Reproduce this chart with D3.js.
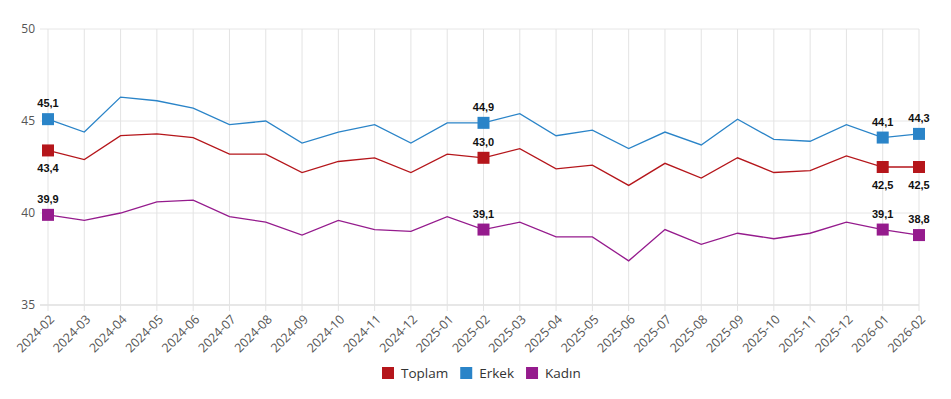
<!DOCTYPE html>
<html lang="tr">
<head>
  <meta charset="utf-8">
  <title>Toplam / Erkek / Kadın</title>
  <style>
    body { margin: 0; background: #fff; }
    svg text { font-family: "Open Sans", "DejaVu Sans", sans-serif; }
  </style>
</head>
<body>
  <script src="https://cdn.jsdelivr.net/npm/d3@7/dist/d3.min.js"></script>
  <script>
    var width = 951;
    var height = 399;

    // data
    var months = ["2024-02", "2024-03", "2024-04", "2024-05", "2024-06", "2024-07", "2024-08",
                  "2024-09", "2024-10", "2024-11", "2024-12", "2025-01", "2025-02", "2025-03",
                  "2025-04", "2025-05", "2025-06", "2025-07", "2025-08", "2025-09", "2025-10",
                  "2025-11", "2025-12", "2026-01", "2026-02"];
    var toplam = [43.4, 42.9, 44.2, 44.3, 44.1, 43.2, 43.2, 42.2, 42.8, 43.0, 42.2, 43.2, 43.0,
                  43.5, 42.4, 42.6, 41.5, 42.7, 41.9, 43.0, 42.2, 42.3, 43.1, 42.5, 42.5];
    var erkek  = [45.1, 44.4, 46.3, 46.1, 45.7, 44.8, 45.0, 43.8, 44.4, 44.8, 43.8, 44.9, 44.9,
                  45.4, 44.2, 44.5, 43.5, 44.4, 43.7, 45.1, 44.0, 43.9, 44.8, 44.1, 44.3];
    var kadin  = [39.9, 39.6, 40.0, 40.6, 40.7, 39.8, 39.5, 38.8, 39.6, 39.1, 39.0, 39.8, 39.1,
                  39.5, 38.7, 38.7, 37.4, 39.1, 38.3, 38.9, 38.6, 38.9, 39.5, 39.1, 38.8];
    var yTicks = [35, 40, 45, 50];
    // points that get a square marker and a value label
    var marked = [0, 12, 23, 24];

    var series = [
      { name: "Toplam", color: "#b5161b", values: toplam, below: [true, false, true, true] },
      { name: "Erkek",  color: "#2a84c8", values: erkek,  below: [false, false, false, false] },
      { name: "Kadın",  color: "#951b8d", values: kadin,  below: [false, false, false, false] }
    ];

    var margin = { top: 29, right: 32, bottom: 94, left: 40 };

    var x = d3.scalePoint()
              .domain(months)
              .range([margin.left + 8, width - margin.right])
              .padding(0);

    var y = d3.scaleLinear()
              .domain([35, 50])
              .range([height - margin.bottom, margin.top]);

    var svg = d3.select("body").append("svg")
                .attr("width", width)
                .attr("height", height);

    // grid
    svg.append("g")
       .selectAll("line")
       .data(yTicks)
       .join("line")
         .attr("x1", margin.left)
         .attr("x2", width - margin.right)
         .attr("y1", function(d) { return y(d); })
         .attr("y2", function(d) { return y(d); })
         .attr("stroke", function(d) { return d == 35 ? "#cfcfcf" : "#e6e6e6"; })
         .attr("stroke-width", 1);

    svg.append("g")
       .selectAll("line")
       .data(months)
       .join("line")
         .attr("x1", function(d) { return x(d); })
         .attr("x2", function(d) { return x(d); })
         .attr("y1", y(50))
         .attr("y2", y(35) + 6)
         .attr("stroke", "#e3e3e3")
         .attr("stroke-width", 1);

    // y axis labels
    svg.append("g")
       .selectAll("text")
       .data(yTicks)
       .join("text")
         .attr("x", margin.left - 5)
         .attr("y", function(d) { return y(d); })
         .attr("dy", "0.35em")
         .attr("text-anchor", "end")
         .attr("fill", "#555")
         .style("font-size", "12px")
         .text(function(d) { return d; });

    // x axis labels, rotated
    svg.append("g")
       .selectAll("text")
       .data(months)
       .join("text")
         .attr("transform", function(d) { return "translate(" + (x(d) + 4) + "," + (y(35) + 12) + ") rotate(-45)"; })
         .attr("text-anchor", "end")
         .attr("dy", "0.35em")
         .attr("fill", "#555")
         .style("font-size", "12.5px")
         .text(function(d) { return d; });

    var line = d3.line()
                 .x(function(d, i) { return x(months[i]); })
                 .y(function(d) { return y(d); });

    series.forEach(function(s) {
      svg.append("path")
         .datum(s.values)
         .attr("d", line)
         .attr("fill", "none")
         .attr("stroke", s.color)
         .attr("stroke-width", 1.3);
    });

    series.forEach(function(s) {
      var g = svg.append("g");
      g.selectAll("rect")
       .data(marked)
       .join("rect")
         .attr("x", function(i) { return x(months[i]) - 6; })
         .attr("y", function(i) { return y(s.values[i]) - 6; })
         .attr("width", 12)
         .attr("height", 12)
         .attr("fill", s.color);

      g.selectAll("text")
       .data(marked)
       .join("text")
         .attr("x", function(i) { return x(months[i]); })
         .attr("y", function(i, k) { return y(s.values[i]) + (s.below[k] ? 22 : -12); })
         .attr("text-anchor", "middle")
         .attr("fill", "#111")
         .style("font-family", "'Liberation Sans', Arial, sans-serif")
         .style("font-weight", "bold")
         .style("font-size", "11px")
         .text(function(i) { return s.values[i].toFixed(1).replace(".", ","); });
    });

    // legend, laid out from the measured text widths and centred
    var legend = svg.append("g");
    var lx = 0;
    series.forEach(function(s) {
      legend.append("rect")
            .attr("x", lx)
            .attr("y", 367)
            .attr("width", 12)
            .attr("height", 12)
            .attr("fill", s.color);
      var t = legend.append("text")
            .attr("x", lx + 19)
            .attr("y", 373)
            .attr("dy", "0.35em")
            .attr("fill", "#333")
            .style("font-size", "13.5px")
            .text(s.name);
      lx = lx + 19 + t.node().getComputedTextLength() + 12;
    });
    var legendWidth = lx - 12;
    legend.attr("transform", "translate(" + Math.round(481 - legendWidth / 2) + ",0)");
  </script>
</body>
</html>
